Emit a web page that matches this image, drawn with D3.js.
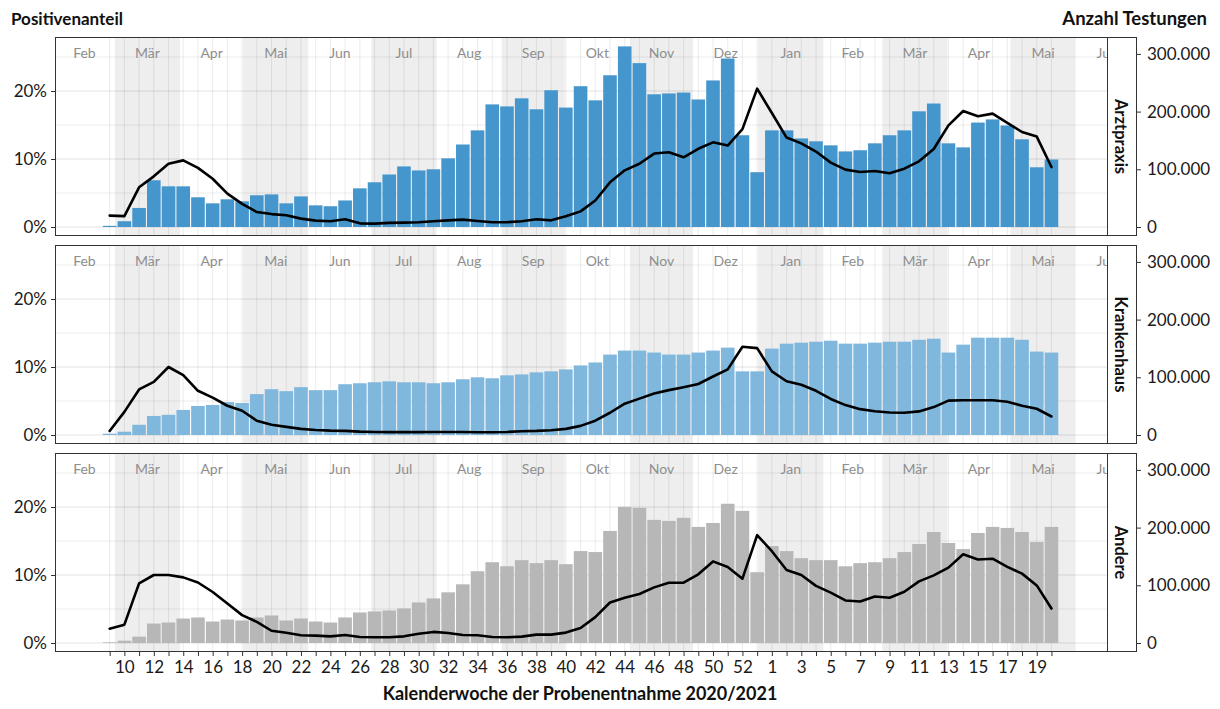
<!DOCTYPE html>
<html>
<head>
<meta charset="utf-8">
<script src="https://cdn.jsdelivr.net/npm/d3@7"></script>
<style>
  body { margin: 0; background: #fff; }
  svg { display: block; }
  text { font-family: Lato, "Open Sans", "DejaVu Sans", sans-serif; }
</style>
</head>
<body>
<svg id="chart" width="1220" height="709"></svg>
<script>
// Calendar weeks (ISO), 2020-W09 ... 2021-W20
const weekYears = [
  2020,2020,2020,2020,2020,2020,2020,2020,2020,2020,2020,2020,2020,2020,2020,
  2020,2020,2020,2020,2020,2020,2020,2020,2020,2020,2020,2020,2020,2020,2020,
  2020,2020,2020,2020,2020,2020,2020,2020,2020,2020,2020,2020,2020,2020,2020,
  2021,2021,2021,2021,2021,2021,2021,2021,2021,2021,
  2021,2021,2021,2021,2021,2021,2021,2021,2021,2021
];
const weekNumbers = [
  9,10,11,12,13,14,15,16,17,18,19,20,21,22,23,24,25,26,27,28,29,30,31,32,33,34,35,36,37,
  38,39,40,41,42,43,44,45,46,47,48,49,50,51,52,53,
  1,2,3,4,5,6,7,8,9,10,11,12,13,14,15,16,17,18,19,20
];

// Number of tests per week
const testsArztpraxis = [
  2000,10000,33000,81000,70500,70500,51500,41000,48000,44500,55000,56500,41000,53000,37500,
  36000,46000,67000,77500,91000,105000,98000,100000,119000,143000,167500,212500,209000,223000,
  204000,237000,207000,244000,219500,263000,313000,284000,230000,231500,233000,221000,254000,
  292000,159000,95000,
  167500,167500,153500,148500,141500,131000,133000,145000,159000,167500,200500,214000,145000,
  138000,181000,186500,176000,152000,103500,117000
];
const testsKrankenhaus = [
  2300,5700,17700,33000,35000,43400,50300,52000,57000,55400,70900,79400,76000,82900,77700,
  77700,88000,89700,91400,93000,91400,91400,89700,91400,96600,100000,98300,103400,105000,
  108600,110300,113700,120600,125700,139400,146300,146300,142900,139400,139400,142900,146300,
  151400,110300,110300,
  149700,158300,160000,161700,163400,158300,158300,160000,161700,161700,165000,166900,142900,
  156600,168600,168600,168600,165000,144600,142900
];
const testsAndere = [
  1200,4000,11000,33700,35500,42400,44200,37200,40700,39000,44200,47700,39000,42400,37200,
  35500,44200,52900,54700,56400,59900,70300,77300,87800,101700,124400,140000,133000,143600,
  138400,143600,136600,159300,157600,194200,236000,234300,213400,211600,216900,201200,208000,
  241300,229000,122700,
  168000,159300,147000,143600,143600,133000,138400,140000,147000,157600,171500,192400,173300,
  162800,190700,201200,199400,192400,175000,201200
];

// Share of positive tests per week (%)
const posArztpraxis = [
  1.68,1.6,5.84,7.45,9.3,9.8,8.7,7.1,4.9,3.4,2.2,1.9,1.72,1.23,0.94,0.84,1.13,0.54,0.49,0.6,
  0.65,0.7,0.84,0.98,1.08,0.88,0.7,0.7,0.84,1.13,0.98,1.57,2.3,3.9,6.57,8.33,9.3,10.8,11.0,
  10.25,11.5,12.45,11.97,14.4,20.35,
  16.77,13.15,12.3,11.1,9.47,8.44,8.09,8.24,7.9,8.58,9.66,11.47,14.95,17.06,16.3,16.67,15.3,
  13.97,13.3,8.82
];
const posKrankenhaus = [
  0.6,3.4,6.7,7.8,10.0,8.8,6.5,5.5,4.3,3.56,2.1,1.5,1.2,0.9,0.74,0.64,0.6,0.5,0.45,0.42,
  0.42,0.42,0.45,0.45,0.45,0.4,0.4,0.45,0.55,0.6,0.7,0.9,1.34,2.1,3.27,4.6,5.35,6.1,6.6,
  7.03,7.5,8.6,9.65,12.97,12.77,
  9.36,7.9,7.38,6.5,5.3,4.4,3.8,3.5,3.3,3.27,3.47,4.1,5.05,5.1,5.1,5.1,4.9,4.3,3.86,2.72
];
const posAndere = [
  2.1,2.7,8.77,10.0,10.0,9.65,8.9,7.5,5.8,4.1,3.1,1.8,1.5,1.13,1.08,0.98,1.18,0.89,0.84,
  0.84,0.98,1.35,1.63,1.48,1.18,1.13,0.89,0.84,0.94,1.23,1.23,1.53,2.2,3.8,5.96,6.65,7.2,
  8.18,8.87,8.87,10.1,12.0,11.18,9.46,15.86,
  13.5,10.74,10.0,8.4,7.4,6.26,6.1,6.85,6.65,7.54,9.06,9.95,11.08,13.05,12.27,12.4,11.2,
  10.2,8.47,5.07
];

const panelNames = ["Arztpraxis", "Krankenhaus", "Andere"];
const panelTests = [testsArztpraxis, testsKrankenhaus, testsAndere];
const panelPos = [posArztpraxis, posKrankenhaus, posAndere];
const barColors = ["#4596cc", "#80b7dd", "#b7b7b7"];

const monthNames = ["Jan","Feb","Mär","Apr","Mai","Jun","Jul","Aug","Sep","Okt","Nov","Dez"];
const pctTicks = [0, 10, 20];
const pctGrid = [0, 5, 10, 15, 20, 25];
const testTicks = [0, 100000, 200000, 300000];

// ---------- layout ----------
const svg = d3.select("#chart");
const plotLeft = 55, plotRight = 1107, stripRight = 1137;
const panelTops = [37, 245, 453];
const panelH = 199;
const zeroOffset = 190;          // distance from panel top to zero line

// centre of an ISO week (Thursday noon)
function weekCenter(year, week) {
  const jan4 = new Date(Date.UTC(year, 0, 4));
  const monday = d3.utcMonday.floor(jan4);
  return new Date(monday.getTime() + ((week - 1) * 7 + 3.5) * 864e5);
}
const weekDates = weekNumbers.map((w, i) => weekCenter(weekYears[i], w));

const x = d3.scaleUtc()
  .domain([new Date(Date.UTC(2020, 1, 1, 12)), new Date(Date.UTC(2021, 5, 15, 22))])
  .range([plotLeft, plotRight]);

const pxPerPct = 6.8, pxPer100k = 57.7;
const yPct = d3.scaleLinear()
  .domain([-(panelH - zeroOffset) / pxPerPct, zeroOffset / pxPerPct])
  .range([panelH, 0]);
const yTests = d3.scaleLinear()
  .domain([-(panelH - zeroOffset) / pxPer100k * 1e5, zeroOffset / pxPer100k * 1e5])
  .range([panelH, 0]);

const de = d3.formatLocale({ decimal: ",", thousands: ".", grouping: [3], currency: ["", " €"] });
const fmtTests = de.format(",");

const months = d3.utcMonth.range(new Date(Date.UTC(2020, 1, 1)), new Date(Date.UTC(2021, 6, 1)));
const barW = 13.6;

// clip for panel contents
svg.append("defs").append("clipPath").attr("id", "panelClip")
  .append("rect").attr("x", plotLeft).attr("y", 0)
  .attr("width", plotRight - plotLeft).attr("height", panelH);

panelNames.forEach((name, p) => {
  const g = svg.append("g").attr("transform", `translate(0,${panelTops[p]})`);
  const inner = g.append("g").attr("clip-path", "url(#panelClip)");

  // alternating month bands
  inner.selectAll("rect.band")
    .data(months.filter((m, i) => i % 2 === 1))
    .join("rect")
    .attr("x", d => x(d))
    .attr("width", d => x(d3.utcMonth.offset(d, 1)) - x(d))
    .attr("y", 0).attr("height", panelH)
    .attr("fill", "#eeeeee");

  // grid
  inner.selectAll("line.vgrid").data(weekDates).join("line")
    .attr("x1", d => x(d)).attr("x2", d => x(d))
    .attr("y1", 0).attr("y2", panelH)
    .attr("stroke", "rgba(0,0,0,0.075)").attr("stroke-width", 1.1);
  inner.selectAll("line.hgrid").data(pctGrid).join("line")
    .attr("x1", plotLeft).attr("x2", plotRight)
    .attr("y1", d => yPct(d)).attr("y2", d => yPct(d))
    .attr("stroke", "rgba(0,0,0,0.075)").attr("stroke-width", d => d % 10 === 0 ? 1.3 : 1);

  // month names
  inner.selectAll("text.month").data(months).join("text")
    .attr("x", d => x(new Date((d.getTime() + d3.utcMonth.offset(d, 1).getTime()) / 2)))
    .attr("y", 21)
    .attr("text-anchor", "middle")
    .attr("font-size", 14)
    .attr("fill", "#8e8e8e")
    .text(d => monthNames[d.getUTCMonth()]);

  // bars: tests per week
  inner.selectAll("rect.bar").data(panelTests[p]).join("rect")
    .attr("x", (d, i) => x(weekDates[i]) - barW / 2)
    .attr("width", barW)
    .attr("y", d => yTests(d))
    .attr("height", d => yTests(0) - yTests(d))
    .attr("fill", barColors[p]);

  // line: share of positives
  const line = d3.line()
    .x((d, i) => x(weekDates[i]))
    .y(d => yPct(d))
    .curve(d3.curveLinear);
  inner.append("path").datum(panelPos[p])
    .attr("d", line)
    .attr("fill", "none")
    .attr("stroke", "#000")
    .attr("stroke-width", 2.6)
    .attr("stroke-linejoin", "round")
    .attr("stroke-linecap", "round");

  // panel + strip borders
  g.append("rect")
    .attr("x", plotLeft + 0.5).attr("y", 0.5)
    .attr("width", stripRight - plotLeft - 1).attr("height", panelH - 1)
    .attr("fill", "none").attr("stroke", "#333").attr("stroke-width", 1);
  g.append("line")
    .attr("x1", plotRight + 0.5).attr("x2", plotRight + 0.5)
    .attr("y1", 0).attr("y2", panelH)
    .attr("stroke", "#333");

  // strip label
  g.append("text")
    .attr("transform", `translate(${(plotRight + stripRight) / 2 - 1},${panelH / 2}) rotate(90)`)
    .attr("text-anchor", "middle")
    .attr("dominant-baseline", "central")
    .attr("font-size", 16.5)
    .attr("font-weight", "bold")
    .attr("fill", "#111")
    .text(name);

  // left axis: percent
  const la = g.append("g").attr("transform", `translate(${plotLeft},0)`)
    .call(d3.axisLeft(yPct).tickValues(pctTicks).tickFormat(d => d + "%").tickSize(4).tickPadding(4));
  la.select(".domain").remove();
  la.selectAll("text").attr("font-size", 17).attr("fill", "#1a1a1a").style("font-family", null);
  la.selectAll("line").attr("stroke", "#333");

  // right axis: tests
  const ra = g.append("g").attr("transform", `translate(${stripRight},0)`)
    .call(d3.axisRight(yTests).tickValues(testTicks).tickFormat(fmtTests).tickSize(4).tickPadding(6));
  ra.select(".domain").remove();
  ra.selectAll("text").attr("font-size", 17).attr("fill", "#1a1a1a").style("font-family", null);
  ra.selectAll("line").attr("stroke", "#333");

  // bottom axis on last panel
  if (p === panelNames.length - 1) {
    const ba = g.append("g").attr("transform", `translate(0,${panelH})`)
      .call(d3.axisBottom(x).tickValues(weekDates)
        .tickFormat((d, i) => i % 2 === 1 ? String(weekNumbers[i]) : "")
        .tickSize(4).tickPadding(5));
    ba.select(".domain").remove();
    ba.selectAll("text").attr("font-size", 17).attr("fill", "#1a1a1a").style("font-family", null);
    ba.selectAll("line").attr("stroke", "#333");
  }
});

// titles
svg.append("text").attr("x", 11).attr("y", 25)
  .attr("font-size", 17).attr("font-weight", "bold").attr("fill", "#111")
  .text("Positivenanteil");
svg.append("text").attr("x", 1207).attr("y", 25)
  .attr("text-anchor", "end")
  .attr("font-size", 18.5).attr("font-weight", "bold").attr("fill", "#111")
  .text("Anzahl Testungen");
svg.append("text").attr("x", 580).attr("y", 700)
  .attr("text-anchor", "middle")
  .attr("font-size", 18).attr("font-weight", "bold").attr("fill", "#111")
  .text("Kalenderwoche der Probenentnahme 2020/2021");
</script>
</body>
</html>
